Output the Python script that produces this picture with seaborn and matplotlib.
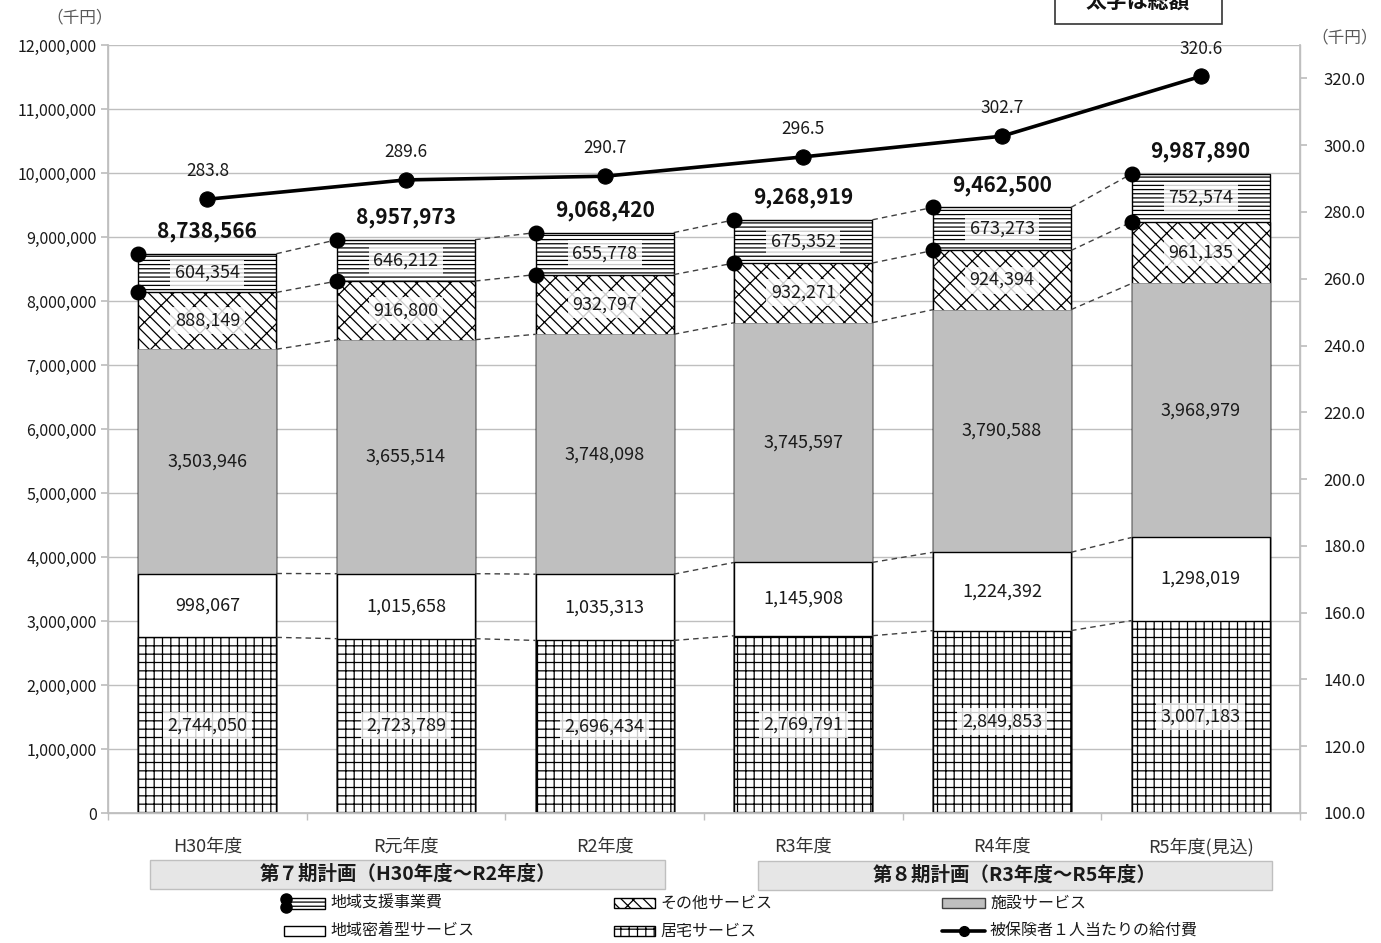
import numpy as np
import pandas as pd
import matplotlib
matplotlib.use("Agg")
import matplotlib.pyplot as plt
from matplotlib.patches import Rectangle
from matplotlib.lines import Line2D
from matplotlib.ticker import FuncFormatter, MultipleLocator, FixedLocator
import seaborn as sns

# ---- data (千円) ----
years = ["H30年度", "R元年度", "R2年度", "R3年度", "R4年度", "R5年度(見込)"]
kyotaku = [2744050, 2723789, 2696434, 2769791, 2849853, 3007183]          # 居宅サービス
chiiki_mitchaku = [998067, 1015658, 1035313, 1145908, 1224392, 1298019]   # 地域密着型サービス
shisetsu = [3503946, 3655514, 3748098, 3745597, 3790588, 3968979]         # 施設サービス
sonota = [888149, 916800, 932797, 932271, 924394, 961135]                 # その他サービス
chiiki_shien = [604354, 646212, 655778, 675352, 673273, 752574]           # 地域支援事業費
totals = [8738566, 8957973, 9068420, 9268919, 9462500, 9987890]
per_insured = [283.8, 289.6, 290.7, 296.5, 302.7, 320.6]                  # 被保険者1人当たりの給付費

series_names = ["居宅サービス", "地域密着型サービス", "施設サービス", "その他サービス", "地域支援事業費"]
series_vals = [kyotaku, chiiki_mitchaku, shisetsu, sonota, chiiki_shien]

sns.set_theme(style="white")
plt.rcParams["font.family"] = ["Noto Sans CJK JP", "DejaVu Sans"]
plt.rcParams["hatch.linewidth"] = 0.9
plt.rcParams["axes.unicode_minus"] = False

W, H = 1381, 943
fig = plt.figure(figsize=(W / 100, H / 100), dpi=100)

def fx(x):
    return x / W

def fy(y):
    return 1 - y / H

ax = fig.add_axes([fx(108), fy(813), fx(1300) - fx(108), fy(45) - fy(813)])

df = pd.DataFrame({"year": years})
for name, vals in zip(series_names, series_vals):
    df[name] = vals
cum = df[series_names].cumsum(axis=1)
for name in series_names:
    df["cum_" + name] = cum[name]

HATCH_SONOTA = "\\\\x"
styles = {
    "地域支援事業費": dict(color="white", hatch="----", edgecolor="black", linewidth=1.0),
    "その他サービス": dict(color="white", hatch=HATCH_SONOTA, edgecolor="black", linewidth=1.0),
    "施設サービス": dict(color="#bfbfbf", hatch=None, edgecolor="#8c8c8c", linewidth=0.6),
    "地域密着型サービス": dict(color="white", hatch=None, edgecolor="black", linewidth=1.0),
    "居宅サービス": dict(color="white", hatch="++", edgecolor="black", linewidth=1.0),
}
bar_w = 0.695

# cumulative bars drawn from the top layer down so each lower layer covers the one above
for name in reversed(series_names):
    st = styles[name]
    sns.barplot(data=df, x="year", y="cum_" + name, order=years, ax=ax,
                color=st["color"], saturation=1, width=bar_w, errorbar=None,
                hatch=st["hatch"], edgecolor=st["edgecolor"], linewidth=st["linewidth"],
                zorder=2)

ax.set_ylim(0, 12000000)
ax.set_xlim(-0.5, 5.5)
ax.yaxis.set_major_locator(MultipleLocator(1000000))
ax.yaxis.set_major_formatter(FuncFormatter(lambda v, p: f"{int(v):,}"))
ax.grid(axis="y", color="#bfbfbf", linewidth=1.0, zorder=0)
ax.set_axisbelow(True)
ax.set_xlabel("")
ax.set_ylabel("")
for s in ["left", "bottom", "right", "top"]:
    ax.spines[s].set_color("#bfbfbf")
    ax.spines[s].set_linewidth(1.0)
ax.spines["top"].set_visible(False)
ax.tick_params(axis="y", which="major", left=True, length=5, color="#bfbfbf",
               labelsize=11.5, labelcolor="#1a1a1a", pad=3)
ax.set_xticks(range(len(years)))
ax.set_xticklabels(years, fontsize=13, color="#333333")
ax.tick_params(axis="x", which="major", length=0, pad=18)
ax.xaxis.set_minor_locator(FixedLocator(np.arange(-0.5, 6.0, 1.0)))
ax.tick_params(axis="x", which="minor", bottom=True, length=5, color="#bfbfbf")

# segment value labels
boxed = {"居宅サービス", "その他サービス", "地域支援事業費"}
for i in range(len(years)):
    base = 0
    for name, vals in zip(series_names, series_vals):
        v = vals[i]
        mid = base + v / 2
        kw = {}
        if name in boxed:
            kw["bbox"] = dict(boxstyle="square,pad=0.25", facecolor="white",
                              edgecolor="none", alpha=0.8)
        ax.text(i, mid, f"{v:,}", ha="center", va="center", fontsize=13,
                color="#1a1a1a", zorder=5, **kw)
        base += v
    ax.annotate(f"{totals[i]:,}", (i, totals[i]), xytext=(0, 16),
                textcoords="offset points", ha="center", va="center",
                fontsize=15, fontweight="bold", color="#111111", zorder=6)

# dashed series lines between adjacent bars
levels = [df["cum_" + n].values for n in series_names]
for lv in levels:
    for i in range(len(years) - 1):
        ax.plot([i + bar_w / 2, i + 1 - bar_w / 2], [lv[i], lv[i + 1]],
                linestyle=(0, (4, 3)), color="#404040", linewidth=1.0, zorder=3)

# markers on the left edge of each bar
dot_x = np.arange(len(years)) - bar_w / 2
ax.scatter(dot_x, df["cum_地域支援事業費"], s=110, color="black", zorder=6, clip_on=False)
ax.scatter(dot_x, df["cum_その他サービス"], s=110, color="black", zorder=6, clip_on=False)

# per-insured benefit line on secondary axis
ax2 = ax.twinx()
sns.lineplot(x=np.arange(len(years)), y=per_insured, ax=ax2, color="black",
             linewidth=2.6, marker="o", markersize=11, markeredgecolor="black", zorder=7)
ax2.set_ylim(100, 330)
ax2.set_xlim(-0.5, 5.5)
ax2.set_yticks(np.arange(100, 321, 20))
ax2.yaxis.set_major_formatter(FuncFormatter(lambda v, p: f"{v:.1f}"))
ax2.tick_params(axis="y", right=True, length=5, color="#bfbfbf",
                labelsize=12, labelcolor="#1a1a1a", pad=12)
for s in ["left", "bottom", "right", "top"]:
    ax2.spines[s].set_color("#bfbfbf")
ax2.spines["top"].set_visible(False)
ax2.grid(False)
for i, v in enumerate(per_insured):
    ax2.annotate(f"{v:.1f}", (i, v), xytext=(0, 20), textcoords="offset points",
                 ha="center", va="center", fontsize=12.5, color="#1a1a1a")

# unit labels
fig.text(fx(80), fy(18), "（千円）", ha="center", va="center", fontsize=12, color="#595959")
fig.text(fx(1345), fy(38), "（千円）", ha="center", va="center", fontsize=12, color="#595959")

# note box at top
fig.add_artist(Rectangle((fx(1055), fy(24)), fx(1222) - fx(1055), fy(-30) - fy(24),
                         transform=fig.transFigure, facecolor="white",
                         edgecolor="#333333", linewidth=1.2))
fig.text(fx(1138), fy(1), "太字は総額", ha="center", va="center", fontsize=15,
         fontweight="bold", color="#111111")

# plan period boxes
for (x0, x1, y0, y1, label) in [
    (150, 665, 860, 889, "第７期計画（H30年度～R2年度）"),
    (758, 1272, 861, 890, "第８期計画（R3年度～R5年度）"),
]:
    fig.add_artist(Rectangle((fx(x0), fy(y1)), fx(x1) - fx(x0), fy(y0) - fy(y1),
                             transform=fig.transFigure, facecolor="#e6e6e6",
                             edgecolor="#bfbfbf", linewidth=1.0))
    fig.text(fx((x0 + x1) / 2), fy((y0 + y1) / 2), label, ha="center", va="center",
             fontsize=14, fontweight="bold", color="#1a1a1a")

# legend
def legend_patch(x0, x1, yc, face, hatch, edge="black", lw=1.0, h=10):
    fig.add_artist(Rectangle((fx(x0), fy(yc + h / 2)), fx(x1) - fx(x0), (h) / H,
                             transform=fig.transFigure, facecolor=face, hatch=hatch,
                             edgecolor=edge, linewidth=lw))

def legend_text(x, yc, text):
    fig.text(fx(x), fy(yc), text, ha="left", va="center", fontsize=11.5, color="#1a1a1a")

r1, r2 = 903, 931
legend_patch(287, 325, r1, "white", "----", h=11)
fig.add_artist(Line2D([fx(286)], [fy(r1 - 4)], marker="o", markersize=8, color="black",
                      transform=fig.transFigure))
fig.add_artist(Line2D([fx(286)], [fy(r1 + 4)], marker="o", markersize=8, color="black",
                      transform=fig.transFigure))
legend_text(330, r1, "地域支援事業費")
legend_patch(614, 655, r1, "white", HATCH_SONOTA)
legend_text(660, r1, "その他サービス")
legend_patch(942, 985, r1, "#bfbfbf", None, edge="#404040")
legend_text(990, r1, "施設サービス")
legend_patch(284, 325, r2, "white", None)
legend_text(330, r2, "地域密着型サービス")
legend_patch(614, 655, r2, "white", "++")
legend_text(660, r2, "居宅サービス")
fig.add_artist(Line2D([fx(942), fx(985)], [fy(r2), fy(r2)], color="black", linewidth=2.6,
                      transform=fig.transFigure))
fig.add_artist(Line2D([fx(963.5)], [fy(r2)], marker="o", markersize=7, color="black",
                      transform=fig.transFigure))
legend_text(990, r2, "被保険者１人当たりの給付費")

fig.savefig("out.png", dpi=100)
